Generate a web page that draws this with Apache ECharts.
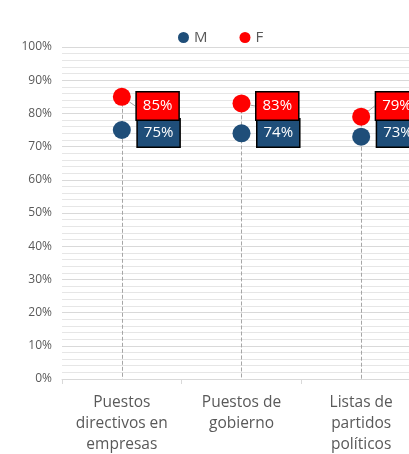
<!DOCTYPE html>
<html>
<head>
<meta charset="utf-8">
<script src="https://cdn.jsdelivr.net/npm/echarts@6/dist/echarts.min.js"></script>
<style>
  html, body { margin: 0; padding: 0; background: #fff; overflow: hidden; }
  /* el gráfico original está recortado a la derecha */
  #chart { width: 421px; height: 454px; }
</style>
</head>
<body>
<div id="chart"></div>
<script>
const categories = ["Puestos\ndirectivos en\nempresas", "Puestos de\ngobierno", "Listas de\npartidos\npolíticos"]
const valuesM = [75, 74, 73]
const valuesF = [85, 83, 79]
const yMin = 0
const yMax = 100
const yStep = 10

const colorM = "#1f4e79"
const colorF = "#ff0000"
const textGray = "#595959"
const font = "'Open Sans', 'Liberation Sans', sans-serif"

// líneas verticales desde el punto más alto hasta el eje
const dropLines = categories.map((c, i) => [
  { coord: [i, Math.max(valuesM[i], valuesF[i])] },
  { coord: [i, yMin] }
])

const boxLabel = (bg) => ({
  show: true,
  position: "right",
  formatter: "{c}%",
  color: "#fff",
  fontSize: 15,
  lineHeight: 19,
  backgroundColor: bg,
  borderColor: "#000",
  borderWidth: 1.5,
  padding: [4, 6, 4, 6],
  fontFamily: font
})

const chart = echarts.init(document.getElementById("chart"))
chart.setOption({
  animation: false,
  textStyle: { fontFamily: font },
  legend: {
    top: 25,
    left: 173,
    icon: "circle",
    itemWidth: 11,
    itemHeight: 11,
    itemGap: 32,
    textStyle: { color: textGray, fontSize: 15, fontFamily: font },
    data: ["M", "F"]
  },
  grid: { left: 62, right: 0, top: 47, bottom: 75, outerBoundsMode: "none" },
  xAxis: {
    type: "category",
    data: categories,
    axisLine: { lineStyle: { color: "#d9d9d9" } },
    axisTick: { show: true, length: 5, lineStyle: { color: "#d9d9d9" } },
    axisLabel: { color: textGray, fontSize: 15.5, lineHeight: 21, margin: 13, interval: 0, fontFamily: font }
  },
  yAxis: {
    type: "value",
    min: yMin,
    max: yMax,
    interval: yStep,
    axisLine: { show: false },
    axisTick: { show: false },
    axisLabel: { color: textGray, fontSize: 12, margin: 10, formatter: "{value}%", fontFamily: font },
    splitLine: { lineStyle: { color: "#d9d9d9" } },
    minorTick: { show: false, splitNumber: 5 },
    minorSplitLine: { show: true, lineStyle: { color: "#e6e6e6" } }
  },
  series: [
    {
      name: "M",
      type: "scatter",
      data: valuesM,
      symbolSize: 18,
      itemStyle: { color: colorM, opacity: 1 },
      z: 3,
      label: boxLabel(colorM),
      labelLayout: (p) => ({ x: p.rect.x + p.rect.width + 7, y: 133, align: "left", verticalAlign: "middle" }),
      markLine: {
        silent: true,
        symbol: "none",
        label: { show: false },
        lineStyle: { color: "#a6a6a6", type: "dashed", width: 1 },
        data: dropLines,
        z: 1
      }
    },
    {
      name: "F",
      type: "scatter",
      data: valuesF,
      symbolSize: 18,
      itemStyle: { color: colorF, opacity: 1 },
      z: 4,
      label: boxLabel(colorF),
      labelLine: { show: true, lineStyle: { color: "#a6a6a6", width: 1 } },
      labelLayout: (p) => ({ x: p.rect.x + p.rect.width + 6, y: 106, align: "left", verticalAlign: "middle" })
    }
  ]
})
</script>
</body>
</html>
